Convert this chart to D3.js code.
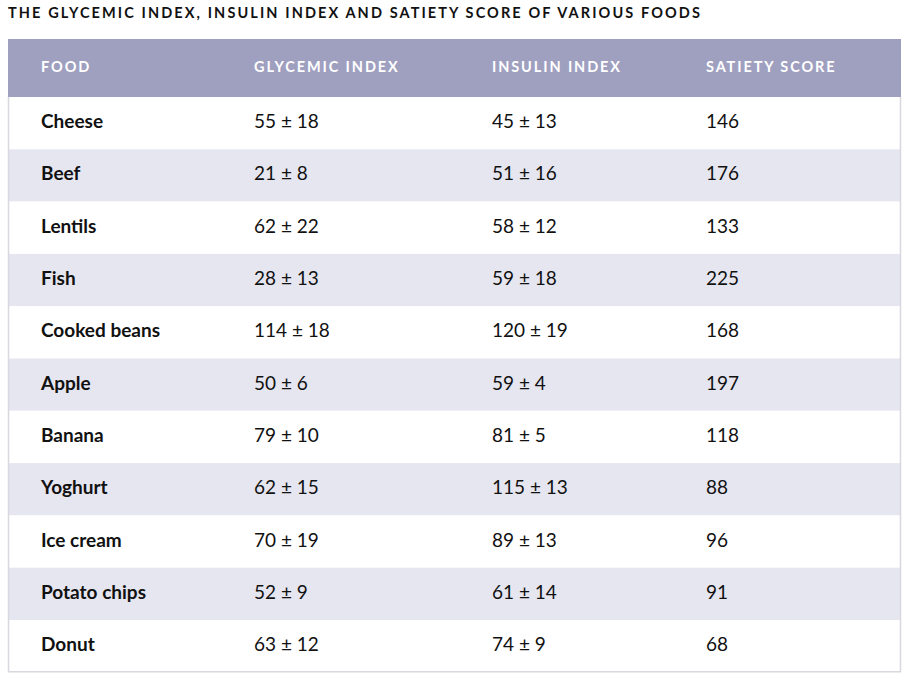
<!DOCTYPE html>
<html><head><meta charset="utf-8">
<script src="https://cdn.jsdelivr.net/npm/d3@7"></script>
<style>body{margin:0;background:#fff;font-family:Lato,"Open Sans",sans-serif}</style>
</head><body><div id="chart"></div>
<script>
// ── Data ──────────────────────────────────────────────
const title    = 'THE GLYCEMIC INDEX, INSULIN INDEX AND SATIETY SCORE OF VARIOUS FOODS';
const headers  = ['FOOD', 'GLYCEMIC INDEX', 'INSULIN INDEX', 'SATIETY SCORE'];
const foods    = ['Cheese','Beef','Lentils','Fish','Cooked beans','Apple','Banana','Yoghurt','Ice cream','Potato chips','Donut'];
const glycemic = ['55 ± 18','21 ± 8','62 ± 22','28 ± 13','114 ± 18','50 ± 6','79 ± 10','62 ± 15','70 ± 19','52 ± 9','63 ± 12'];
const insulin  = ['45 ± 13','51 ± 16','58 ± 12','59 ± 18','120 ± 19','59 ± 4','81 ± 5','115 ± 13','89 ± 13','61 ± 14','74 ± 9'];
const satiety  = [146, 176, 133, 225, 168, 197, 118, 88, 96, 91, 68];

const width = 914, height = 684;
const svg = d3.select('#chart').append('svg').attr('width', width).attr('height', height);

const tableL = 8, tableR = 901, headTop = 39, headH = 58, rowH = 52.3;

// ── Scales ────────────────────────────────────────────
const y = d3.scaleBand().domain(foods).range([headTop + headH, headTop + headH + rowH * foods.length]);
const colX = [41, 254, 492, 706];

// ── Title ─────────────────────────────────────────────
svg.append('text').attr('x', 8).attr('y', 18)
  .attr('font-size', '14.5px').attr('font-weight', 700).attr('letter-spacing', '2.1px')
  .attr('fill', '#111').text(title);

// ── Header ────────────────────────────────────────────
svg.append('rect').attr('x', tableL).attr('y', headTop).attr('width', tableR - tableL).attr('height', headH)
  .attr('fill', '#9fa0c0');
headers.forEach((h, i) => {
  svg.append('text').attr('x', colX[i]).attr('y', headTop + headH / 2 + 4)
    .attr('font-size', '14.5px').attr('font-weight', 700).attr('letter-spacing', '1.9px')
    .attr('fill', '#fff').text(h);
});

// ── Rows ──────────────────────────────────────────────
const rows = svg.selectAll('g.row').data(foods).join('g').attr('class', 'row')
  .attr('transform', d => `translate(0,${y(d)})`);
rows.append('rect').attr('x', tableL).attr('width', tableR - tableL).attr('height', y.bandwidth())
  .attr('fill', (d, i) => i % 2 ? '#e6e6f0' : '#fff');
const ty = y.bandwidth() / 2 + 5;
rows.append('text').attr('x', colX[0]).attr('y', ty).attr('font-size', '19px').attr('font-weight', 700)
  .attr('fill', '#111').text(d => d);
[glycemic, insulin, satiety].forEach((arr, c) => {
  rows.append('text').attr('x', colX[c + 1]).attr('y', ty).attr('font-size', '19px')
    .attr('fill', '#111').text((d, i) => arr[i]);
});

// ── Border ────────────────────────────────────────────
const bottom = y.range()[1];
svg.append('path')
  .attr('d', `M${tableL + 0.5},${headTop + headH}V${bottom - 0.5}H${tableR - 0.5}V${headTop + headH}`)
  .attr('fill', 'none').attr('stroke', '#d8d8de').attr('stroke-width', 1.5);
</script></body></html>
